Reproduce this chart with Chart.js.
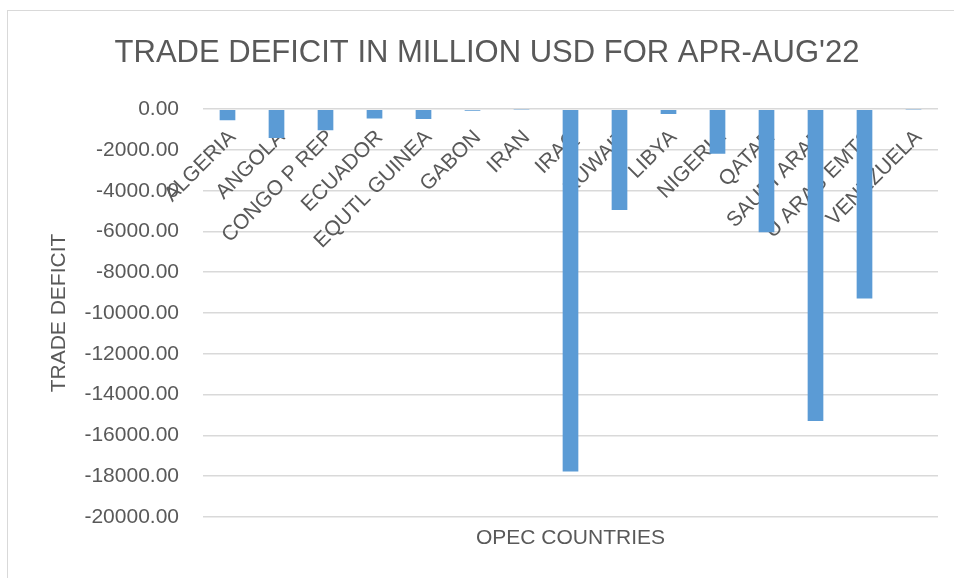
<!DOCTYPE html>
<html>
<head>
<meta charset="utf-8">
<script src="https://cdn.jsdelivr.net/npm/chart.js@4/dist/chart.umd.min.js"></script>
<style>
    html, body { margin: 0; padding: 0; background: #fff; }
    #wrap { position: relative; width: 954px; height: 578px; overflow: hidden; }
    #frame { position: absolute; left: 7px; top: 10px; width: 1000px; height: 600px; border: 1px solid #d9d9d9; }
    #grafik { position: absolute; left: 0; top: 0; }
</style>
</head>
<body>
<div id="wrap">
    <div id="frame"></div>
    <canvas id="grafik" width="954" height="578"></canvas>
</div>
<script>
// Ülkeler ve ticaret açığı (milyon USD)
const ulkeler = ["ALGERIA", "ANGOLA", "CONGO P REP", "ECUADOR", "EQUTL GUINEA", "GABON", "IRAN", "IRAQ",
    "KUWAIT", "LIBYA", "NIGERIA", "QATAR", "SAUDI ARAB", "U ARAB EMTS", "VENEZUELA"];
const ticaretAcigi = [-540, -1410, -1030, -460, -480, -80, -20, -17780,
    -4950, -230, -2190, -6040, -15300, -9290, -10];

const yMin = -20000;
const yMax = 0;
const yAdim = 2000;

const yaziRengi = "#595959";
const fontAdi = "'Liberation Sans', Arial, sans-serif";

new Chart(document.getElementById("grafik").getContext("2d"), {
    type: "bar",
    data: {
        labels: ulkeler,
        datasets: [
            {
                label: "Trade deficit",
                data: ticaretAcigi,
                backgroundColor: "#5B9BD5",
                categoryPercentage: 1,
                barPercentage: 0.32,
                xAxisID: "x",
            },
        ],
    },
    options: {
        responsive: false,
        animation: false,
        layout: { padding: { left: 36, right: 16, top: 0, bottom: 0 } },
        plugins: {
            legend: { display: false },
            tooltip: { enabled: false },
            title: {
                display: true,
                text: "TRADE DEFICIT IN MILLION USD FOR APR-AUG'22",
                color: yaziRengi,
                font: { family: fontAdi, size: 31, weight: "normal" },
                padding: { top: 35, bottom: 37 },
            },
        },
        scales: {
            x: {
                position: { y: 0 },
                z: 1, // etiketler çubukların üstünde
                grid: { display: false, drawTicks: false },
                border: { display: false },
                ticks: {
                    color: yaziRengi,
                    font: { family: fontAdi, size: 21 },
                    minRotation: 45,
                    maxRotation: 45,
                    padding: 16,
                    labelOffset: 5,
                    autoSkip: false,
                },
            },
            x2: {
                type: "category",
                position: "bottom",
                grid: { display: false, drawTicks: false },
                border: { display: false },
                ticks: { display: false },
                title: {
                    display: true,
                    text: "OPEC COUNTRIES",
                    color: yaziRengi,
                    font: { family: fontAdi, size: 21 },
                    padding: { top: 9, bottom: 27 },
                },
            },
            y: {
                min: yMin,
                max: yMax,
                grid: { color: "#d9d9d9", lineWidth: 1.5, drawTicks: false },
                border: { display: false },
                ticks: {
                    stepSize: yAdim,
                    color: yaziRengi,
                    font: { family: fontAdi, size: 21 },
                    padding: 24,
                    callback: (value) => value.toFixed(2),
                },
                title: {
                    display: true,
                    text: "TRADE DEFICIT",
                    color: yaziRengi,
                    font: { family: fontAdi, size: 21 },
                    padding: { top: 11, bottom: 0 },
                },
                afterFit: (scale) => {
                    scale.width = 167;
                },
            },
        },
    },
});
</script>
</body>
</html>
